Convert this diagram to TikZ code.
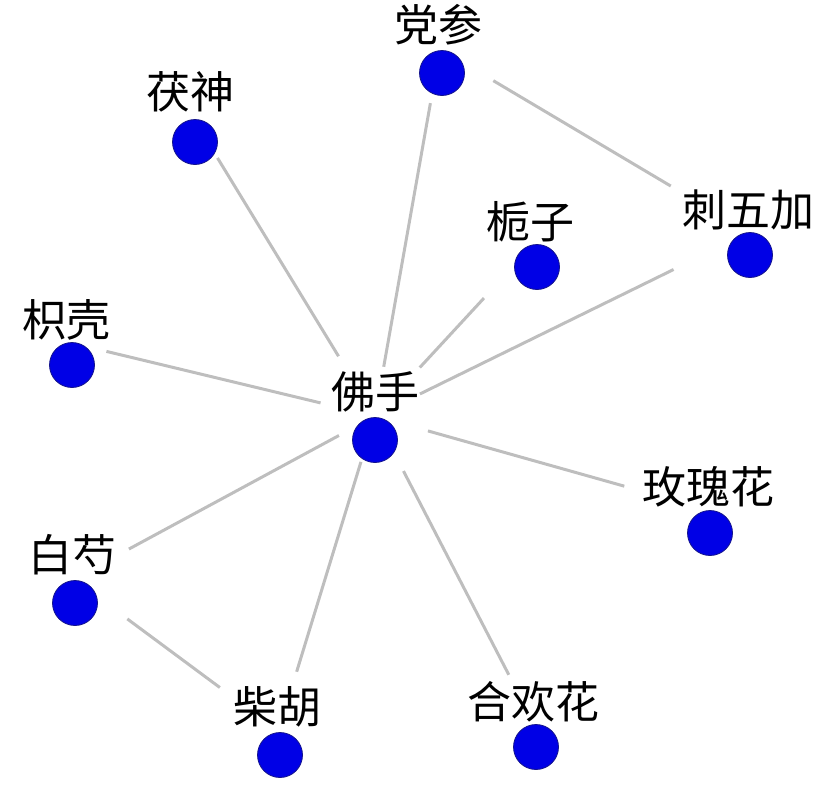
\documentclass[tikz,border=0pt]{standalone}
\usepackage{fontspec}
\newfontfamily\cjk{Noto Sans CJK SC}
\definecolor{nodeblue}{RGB}{0,0,230}
\definecolor{nodeedge}{RGB}{20,20,140}
\definecolor{edgegray}{RGB}{190,190,190}
\begin{document}
\begin{tikzpicture}[x=1pt,y=-1pt,
  lab/.style={font=\cjk\fontsize{44}{44}\selectfont, inner sep=0pt, anchor=center, text=black},
  dot/.style={circle, fill=nodeblue, draw=nodeedge, line width=0.8pt, minimum size=45pt, inner sep=0pt},
  edge/.style={draw=edgegray, line width=3pt}]
\useasboundingbox (0,0) rectangle (827,788);
% group centres
\coordinate (FS) at (375,416);
\coordinate (DS) at (440,49);
\coordinate (FN) at (192.5,117);
\coordinate (ZZ) at (533.5,244.5);
\coordinate (CW) at (749,232.5);
\coordinate (ZK) at (69.5,342.5);
\coordinate (MG) at (709,510);
\coordinate (BS) at (73.5,579);
\coordinate (CH) at (278.5,731);
\coordinate (HH) at (534.5,724.5);
% connectors
\draw[edge, shorten <=50pt, shorten >=55pt] (FS) -- (DS);
\draw[edge, shorten <=70pt, shorten >=48pt] (FS) -- (FN);
\draw[edge, shorten <=66pt, shorten >=73pt] (FS) -- (ZZ);
\draw[edge, shorten <=50pt, shorten >=84pt] (FS) -- (CW);
\draw[edge, shorten <=56pt, shorten >=38pt] (FS) -- (ZK);
\draw[edge, shorten <=55pt, shorten >=88pt] (FS) -- (MG);
\draw[edge, shorten <=41pt, shorten >=63pt] (FS) -- (BS);
\draw[edge, shorten <=48pt, shorten >=62pt] (FS) -- (CH);
\draw[edge, shorten <=62pt, shorten >=56pt] (FS) -- (HH);
\draw[edge, shorten <=62pt, shorten >=91pt] (DS) -- (CW);
\draw[edge, shorten <=67pt, shorten >=73pt] (BS) -- (CH);
% labels and dots
\node[lab] (FS-l) at (375,392) {佛手};
\node[dot] (FS-c) at (375,440) {};
\node[lab] (DS-l) at (438,25) {党参};
\node[dot] (DS-c) at (442,73) {};
\node[lab] (FN-l) at (190,92) {茯神};
\node[dot] (FN-c) at (195,142) {};
\node[lab] (ZZ-l) at (530,222) {栀子};
\node[dot] (ZZ-c) at (537,267) {};
\node[lab] (CW-l) at (748,210) {刺五加};
\node[dot] (CW-c) at (750,255) {};
\node[lab] (ZK-l) at (67,320) {枳壳};
\node[dot] (ZK-c) at (72,365) {};
\node[lab] (MG-l) at (708,487) {玫瑰花};
\node[dot] (MG-c) at (710,533) {};
\node[lab] (BS-l) at (72,555) {白芍};
\node[dot] (BS-c) at (75,603) {};
\node[lab] (CH-l) at (277,707) {柴胡};
\node[dot] (CH-c) at (280,755) {};
\node[lab] (HH-l) at (533,702) {合欢花};
\node[dot] (HH-c) at (536,747) {};
\end{tikzpicture}
\end{document}
